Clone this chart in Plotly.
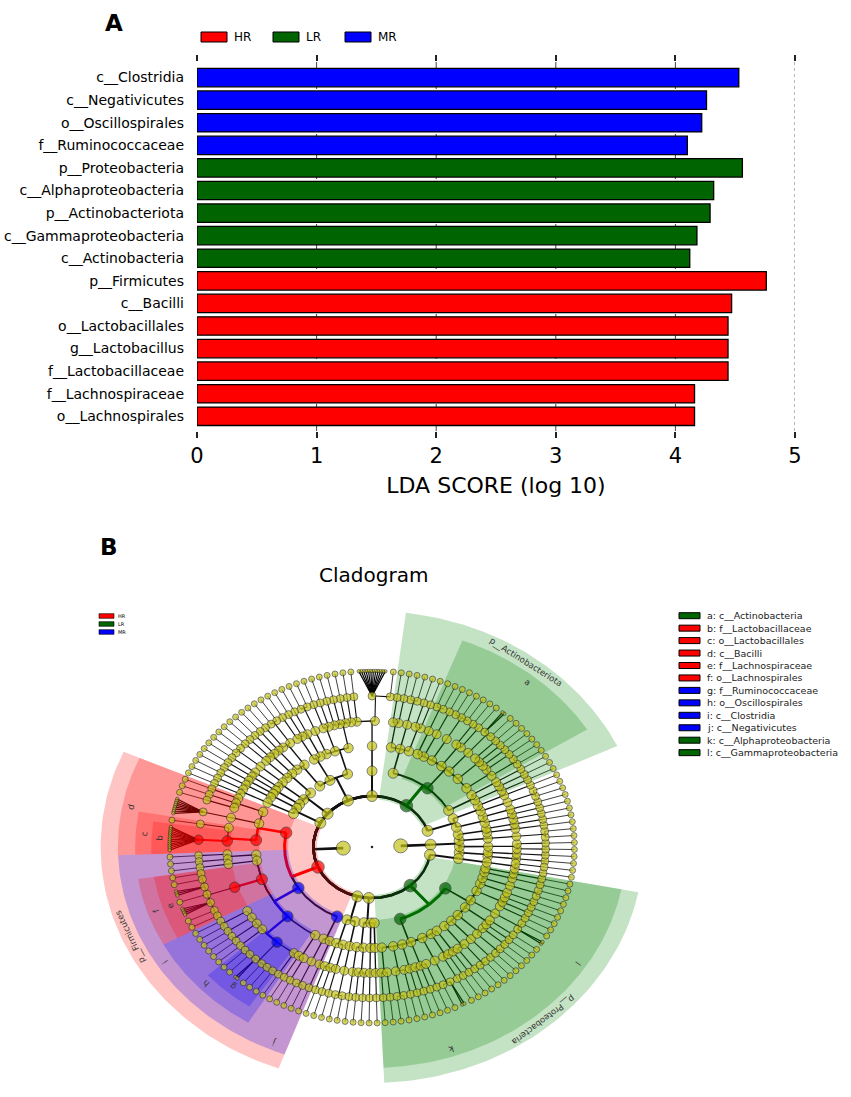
import math

import numpy as np
import plotly.graph_objects as go

W, H = 851, 1097
FONT = "DejaVu Sans"

# ---------------- panel A : LDA scores ----------------
TAXA = [
    "c__Clostridia", "c__Negativicutes", "o__Oscillospirales", "f__Ruminococcaceae",
    "p__Proteobacteria", "c__Alphaproteobacteria", "p__Actinobacteriota",
    "c__Gammaproteobacteria", "c__Actinobacteria", "p__Firmicutes", "c__Bacilli",
    "o__Lactobacillales", "g__Lactobacillus", "f__Lactobacillaceae",
    "f__Lachnospiraceae", "o__Lachnospirales",
]
LDA = [4.53, 4.26, 4.22, 4.10, 4.56, 4.32, 4.29, 4.18, 4.12,
       4.76, 4.47, 4.44, 4.44, 4.44, 4.16, 4.16]
GROUP = ["MR"] * 4 + ["LR"] * 5 + ["HR"] * 7
GROUPS = ["HR", "LR", "MR"]
X_TICKS = [0, 1, 2, 3, 4, 5]

COLORS = {"HR": "#ff0000", "LR": "#006400", "MR": "#0000ff"}
WEDGE_RGB = {"HR": (255, 0, 0), "LR": (0, 128, 0), "MR": (0, 0, 255)}

# ---------------- panel B : cladogram ----------------
# kingdom > phylum > class > order > family > genus, a genus is its number of species
# ("name", ...) marks a named clade
PHY_ARCH = [
    [[[1]], [[1]]],
    [[[1], [1]]],
    [[[1, 1]]],
    [[[1]], [[1]]],
]
PHY_R = [
    [[[1], [1]], [[1]]],
    [[[1, 1]], [[1]]],
]
ACTINOBACTERIOTA = ("p__Actinobacteriota", [
    [[[1], [1]], [[1]]],
    ("c__Actinobacteria", [[[1, 1], [1]], [[1], [1], [1]], [[1, 2]], [[1], [1]],
                           [[1, 1, 1]], [[1]], [[1, 1]]]),
    [[[1], [1]], [[1, 1]], [[1], [1]]],
])
PHY_U1 = [[[[1, 12], [1]]]]
PHY_U2 = [
    [[[1], [1], [1], [1]], [[1], [1]], [[1, 1]]],
    [[[1]], [[1], [1]]],
    [[[1, 1], [1]], [[1]]],
]
PHY_U3 = [
    [[[1], [1]], [[1]]],
    [[[1, 1]], [[1]]],
    [[[1]]],
]
PHY_U4 = [
    [[[1]], [[1]]],
    [[[1], [1]]],
]
FIRMICUTES = ("p__Firmicutes", [
    ("c__Bacilli", [[[1], [1], [1]], [[8]],
                    ("o__Lactobacillales", [[1], ("f__Lactobacillaceae", [("g__Lactobacillus", 12)])])]),
    ("c__Clostridia", [[[1], [1]], [[1]],
                       ("o__Lachnospirales", [("f__Lachnospiraceae", [1, 1, 3, 1, 4, 1, 1])]),
                       ("o__Oscillospirales", [[1, 1], [1], [1, 1], [1],
                                               ("f__Ruminococcaceae", [1, 1, 2, 1, 1, 1]), [1]]),
                       [[1], [1]]]),
    ("c__Negativicutes", [[[1, 1]], [[1]]]),
])
PHY_B1 = [
    [[[1], [1]], [[1]]],
    [[[1, 1]]],
]
PHY_B2 = [
    [[[1]], [[1], [1]]],
    [[[1]]],
    [[[1]]],
]
PROTEOBACTERIA = ("p__Proteobacteria", [
    ("c__Alphaproteobacteria", [[[1], [1]], [[1, 1], [1]], [[1]], [[1], [1], [1]],
                                [[1, 2]], [[1], [1]], [[1]]]),
    ("c__Gammaproteobacteria", [[[1], [1, 1]], [[1]], [[1, 1], [1]], [[1], [1]], [[2, 1]],
                                [[1], [1], [1]], [[1]], [[1, 1]], [[1]], [[1]]]),
])
PHY_E = [[[[1], [1]]]]

TREE = [
    [PHY_ARCH],
    [PHY_R, ACTINOBACTERIOTA, PHY_U1, PHY_U2, PHY_U3, PHY_U4,
     FIRMICUTES, PHY_B1, PHY_B2, PROTEOBACTERIA, PHY_E],
]

LETTERED = [
    "c__Actinobacteria", "f__Lactobacillaceae", "o__Lactobacillales", "c__Bacilli",
    "f__Lachnospiraceae", "o__Lachnospirales", "f__Ruminococcaceae", "o__Oscillospirales",
    "c__Clostridia", "c__Negativicutes", "c__Alphaproteobacteria", "c__Gammaproteobacteria",
]
LETTERS = list("abcdefghijkl")
SIG = dict(zip(TAXA, GROUP))

# geometry of the cladogram (radii in px, horizontal stretch of the original)
RING = [25, 51, 76, 101, 126, 151, 176]
OUTER = {1: 236, 2: 221, 3: 206, 4: 192, 5: 178}
EDGE_W = {1: 2.6, 2: 2.0, 3: 1.6, 4: 1.3, 5: 1.1, 6: 0.8}
NODE_SIZE = [14, 11, 10, 9.5, 9, 8, 6]
FAN_STEP = 0.3
START = -6.5
STRETCH = 1.15
CX, CY = 372, 847
NODE_FILL = "#c4c41a"
EDGE_COLOR = "#111111"


def px(x):
    return x / W


def py(y):
    return 1 - y / H


# ---- lay the tree out ----
nodes = []
leaves = []


def walk(item, depth, parent):
    name, body = item if isinstance(item, tuple) else (None, item)
    idx = len(nodes)
    nodes.append({"name": name, "depth": depth, "parent": parent})
    first = len(leaves)
    if depth == 5:
        for k in range(body):
            step = 1.0 if k == 0 else FAN_STEP
            p = 0.5 if not leaves else leaves[-1] + step
            leaves.append(p)
            nodes.append({"name": None, "depth": 6, "parent": idx, "lo": p, "hi": p, "fan": body > 1})
    else:
        for child in body:
            walk(child, depth + 1, idx)
    nodes[idx]["lo"] = leaves[first]
    nodes[idx]["hi"] = leaves[-1]
    nodes[idx]["fan"] = False


for kingdom in TREE:
    walk(kingdom, 0, None)

total = leaves[-1] + 0.5
unit = 360.0 / total


def theta(p):
    return START + p * unit


def pol(r, t):
    a = math.radians(t)
    return r * math.cos(a), r * math.sin(a)


for n in nodes:
    n["theta"] = theta((n["lo"] + n["hi"]) / 2)
    n["x"], n["y"] = pol(RING[n["depth"]], n["theta"])

children = {}
for i, n in enumerate(nodes):
    if n["parent"] is not None:
        children.setdefault(n["parent"], []).append(i)

segs = {}


def add_seg(key, xs, ys):
    bx, by = segs.setdefault(key, ([], []))
    bx.extend(list(xs) + [None])
    by.extend(list(ys) + [None])


def arc(r, a0, a1):
    k = max(2, int(abs(a1 - a0)) + 2)
    t = np.radians(np.linspace(a0, a1, k))
    return r * np.cos(t), r * np.sin(t)


for pid, kids in children.items():
    p = nodes[pid]
    d = p["depth"]
    pg = SIG.get(p["name"])
    w = EDGE_W[d + 1]
    kid_groups = [SIG.get(nodes[k]["name"]) for k in kids]
    if d == 5:
        for k in kids:
            c = nodes[k]
            add_seg(("#000000", 1.2) if c["fan"] else (EDGE_COLOR, w),
                    [p["x"], c["x"]], [p["y"], c["y"]])
        continue
    rc = RING[d + 1]
    shared = next((g for g in kid_groups if g and g == pg), None)
    x1, y1 = pol(rc, p["theta"])
    key = (COLORS[shared], w + 1) if shared else (EDGE_COLOR, w)
    add_seg(key, [p["x"], x1], [p["y"], y1])
    for k, g in zip(kids, kid_groups):
        xs, ys = arc(rc, p["theta"], nodes[k]["theta"])
        key = (COLORS[g], w + 1) if (g and g == pg) else (EDGE_COLOR, w)
        add_seg(key, xs, ys)

fig = go.Figure()

# ---------------- panel A traces ----------------
fig.add_trace(go.Bar(
    x=LDA, y=TAXA, orientation="h", width=0.815,
    marker=dict(color=[COLORS[g] for g in GROUP], line=dict(color="black", width=1.3)),
    xaxis="x", yaxis="y", hoverinfo="skip", showlegend=False,
))

# ---------------- panel B traces ----------------
for (color, width), (xs, ys) in segs.items():
    fig.add_trace(go.Scatter(x=xs, y=ys, mode="lines", line=dict(color=color, width=width),
                             xaxis="x2", yaxis="y2", hoverinfo="skip", showlegend=False))

sig_nodes = [n for n in nodes if n["name"] in SIG and 1 <= n["depth"] <= 4]
annots = []
for n in sorted(sig_nodes, key=lambda n: n["depth"]):
    d = n["depth"]
    a0, a1 = theta(n["lo"] - 0.5), theta(n["hi"] + 0.5)
    t = np.radians(np.linspace(a0, a1, 80))
    r0, r1 = RING[d] - 3, OUTER[d]
    xs = np.concatenate([r1 * np.cos(t), r0 * np.cos(t[::-1])])
    ys = np.concatenate([r1 * np.sin(t), r0 * np.sin(t[::-1])])
    rr, gg, bb = WEDGE_RGB[SIG[n["name"]]]
    fig.add_trace(go.Scatter(x=xs, y=ys, mode="lines", fill="toself", line=dict(width=0),
                             fillcolor=f"rgba({rr},{gg},{bb},0.23)",
                             xaxis="x2", yaxis="y2", hoverinfo="skip", showlegend=False))
    mid = (a0 + a1) / 2
    rl = (OUTER[d] + OUTER[d + 1]) / 2
    lx, ly = pol(rl, mid)
    tm = math.radians(mid)
    ang = math.degrees(math.atan2(math.cos(tm), STRETCH * math.sin(tm)))
    text = n["name"] if d == 1 else LETTERS[LETTERED.index(n["name"])]
    annots.append(dict(x=lx, y=ly, xref="x2", yref="y2", text=text, showarrow=False,
                       xanchor="center", yanchor="middle", textangle=ang,
                       font=dict(size=8.5, color="#333333", family=FONT)))

plain = [n for n in nodes if n["name"] not in SIG]
fig.add_trace(go.Scatter(
    x=[n["x"] for n in plain], y=[n["y"] for n in plain], mode="markers",
    marker=dict(color=NODE_FILL, line=dict(color="#222222", width=0.8),
                size=[3.5 if n["fan"] else NODE_SIZE[n["depth"]] for n in plain]),
    xaxis="x2", yaxis="y2", hoverinfo="skip", showlegend=False,
))
for g in GROUPS:
    sel = [n for n in nodes if SIG.get(n["name"]) == g]
    fig.add_trace(go.Scatter(
        x=[n["x"] for n in sel], y=[n["y"] for n in sel], mode="markers",
        marker=dict(color=COLORS[g], line=dict(color="#222222", width=0.8),
                    size=[NODE_SIZE[n["depth"]] + 1.5 for n in sel]),
        xaxis="x2", yaxis="y2", hoverinfo="skip", showlegend=False,
    ))
fig.add_trace(go.Scatter(x=[0], y=[0], mode="markers", marker=dict(color="#222", size=2.5),
                         xaxis="x2", yaxis="y2", hoverinfo="skip", showlegend=False))

# ---------------- shapes ----------------
shapes = []
for v in X_TICKS[1:-1]:
    shapes.append(dict(type="line", xref="x", yref="y domain", x0=v, x1=v, y0=0, y1=1,
                       line=dict(color="#444444", width=1, dash="dash"), layer="below"))
shapes.append(dict(type="line", xref="x", yref="y domain", x0=X_TICKS[-1], x1=X_TICKS[-1], y0=0, y1=1,
                   line=dict(color="#888888", width=1.2, dash="dot"), layer="below"))


def label(x, y, text, size, anchor="center", color="black"):
    annots.append(dict(x=px(x), y=py(y), xref="paper", yref="paper", text=text,
                       showarrow=False, xanchor=anchor, yanchor="middle",
                       font=dict(size=size, color=color)))


# panel A legend
for i, g in enumerate(GROUPS):
    x0 = 201 + 72 * i
    shapes.append(dict(type="rect", xref="paper", yref="paper", x0=px(x0), x1=px(x0 + 26),
                       y0=py(42), y1=py(32), fillcolor=COLORS[g], line=dict(color="black", width=1)))
    label(x0 + 31, 37, g, 12, "left")

# panel B small legend
for i, g in enumerate(GROUPS):
    yc = 616 + 8 * i
    shapes.append(dict(type="rect", xref="paper", yref="paper", x0=px(99), x1=px(114),
                       y0=py(yc + 2.3), y1=py(yc - 2.3), fillcolor=COLORS[g],
                       line=dict(color="black", width=0.6)))
    label(116, yc, g, 5, "left")

# panel B clade legend
for i, (letter, name) in enumerate(zip(LETTERS, LETTERED)):
    yc = 615.7 + 12.45 * i
    shapes.append(dict(type="rect", xref="paper", yref="paper", x0=px(679), x1=px(700),
                       y0=py(yc + 3), y1=py(yc - 3), fillcolor=COLORS[SIG[name]],
                       line=dict(color="black", width=1)))
    label(705, yc, f"{letter}: {name}", 9.5, "left", "#222222")

label(114, 23, "<b>A</b>", 23)
label(108.5, 547, "<b>B</b>", 23)
label(373, 575, "Cladogram", 20)

fig.update_layout(
    width=W, height=H,
    margin=dict(l=0, r=0, t=0, b=0, pad=0),
    paper_bgcolor="white", plot_bgcolor="white",
    font=dict(family=FONT, color="black"),
    showlegend=False,
    shapes=shapes,
    annotations=annots,
    xaxis=dict(
        domain=[px(197), px(795)], range=[0, 5], anchor="y", automargin=False,
        tickvals=X_TICKS, ticks="outside", ticklen=6, tickwidth=1.5, tickcolor="#222222",
        mirror="ticks", showline=False, showgrid=False, zeroline=False,
        tickfont=dict(size=21),
        title=dict(text="LDA SCORE (log 10)", font=dict(size=22), standoff=10),
    ),
    yaxis=dict(
        domain=[py(431), py(62)], anchor="x", automargin=False,
        categoryorder="array", categoryarray=TAXA[::-1], range=[-0.65, 15.69],
        showgrid=False, zeroline=False, showline=False, ticks="",
        tickfont=dict(size=14), ticklabelstandoff=12,
    ),
    xaxis2=dict(
        domain=[px(40), px(680)], anchor="y2", visible=False, automargin=False,
        range=[(40 - CX) / STRETCH, (680 - CX) / STRETCH],
    ),
    yaxis2=dict(
        domain=[0, py(590)], anchor="x2", visible=False, automargin=False,
        range=[CY - H, CY - 590],
    ),
)

page_css = ("document.documentElement.style.margin='0px';"
            "document.body.style.margin='0px';"
            "document.documentElement.style.overflow='hidden';"
            "document.body.style.overflow='hidden';")
fig.write_html("out.html", config={"displayModeBar": False}, post_script=page_css)
